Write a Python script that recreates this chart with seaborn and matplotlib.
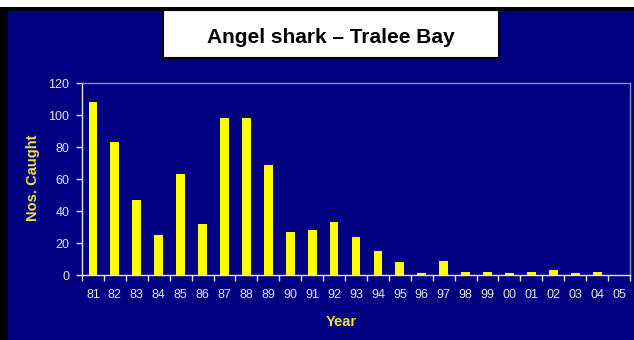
import matplotlib
matplotlib.use("Agg")
import matplotlib.pyplot as plt
from matplotlib.patches import Rectangle
import seaborn as sns
import pandas as pd
from matplotlib.ticker import MultipleLocator

years = ["81", "82", "83", "84", "85", "86", "87", "88", "89", "90", "91", "92", "93",
         "94", "95", "96", "97", "98", "99", "00", "01", "02", "03", "04", "05"]
caught = [108, 83, 47, 25, 63, 32, 98, 98, 69, 27, 28, 33, 24,
          15, 8, 1, 9, 2, 2, 1, 2, 3, 1, 2, 0]
yticks = [0, 20, 40, 60, 80, 100, 120]

title = "Angel shark \u2013 Tralee Bay"
ylabel = "Nos. Caught"
xlabel = "Year"

W, H = 634, 340
NAVY = "#000080"
YELLOW = "#FFFF00"
TICKC = "#E6E6E6"

sns.set_theme(style="white")
plt.rcParams["font.family"] = ["Liberation Sans", "DejaVu Sans"]

fig = plt.figure(figsize=(W / 100, H / 100), dpi=100, facecolor="white")

def px_rect(x0, y0, x1, y1, **kw):
    r = Rectangle((x0 / W, 1 - y1 / H), (x1 - x0) / W, (y1 - y0) / H,
                  transform=fig.transFigure, **kw)
    fig.patches.append(r)
    return r

px_rect(0, 7, W, H, facecolor="black", edgecolor="none", zorder=-2)
px_rect(8, 11, W, H, facecolor=NAVY, edgecolor="none", zorder=-1)

left, right, top, bottom = 82, 630, 83, 275
ax = fig.add_axes([left / W, 1 - bottom / H, (right - left) / W, (bottom - top) / H])
ax.set_zorder(2)
ax.set_facecolor(NAVY)

df = pd.DataFrame({"Year": years, "Caught": caught})
sns.barplot(data=df, x="Year", y="Caught", color=YELLOW, width=0.4,
            saturation=1, edgecolor="none", ax=ax)

ax.set_xlim(-0.5, len(years) - 0.5)
ax.set_ylim(0, 120)
ax.set_yticks(yticks)
ax.set_xlabel("")
ax.set_ylabel("")

for s in ["top", "right"]:
    ax.spines[s].set_color("#8C8CB4")
    ax.spines[s].set_linewidth(1.0)
for s in ["left", "bottom"]:
    ax.spines[s].set_color(TICKC)
    ax.spines[s].set_linewidth(1.0)

ax.xaxis.set_minor_locator(MultipleLocator(1, offset=0.5))
ax.tick_params(axis="x", which="major", length=0, pad=10, labelsize=9, labelcolor=TICKC)
ax.tick_params(axis="x", which="minor", bottom=True, length=4, width=1, color=TICKC, direction="out")
ax.tick_params(axis="y", which="major", left=True, length=4, width=1, color=TICKC,
               direction="out", pad=5, labelsize=9, labelcolor=TICKC)

fig.text(33 / W, 1 - 178 / H, ylabel, rotation=90, ha="center", va="center",
         color="#F0E040", fontsize=10.5, fontweight="bold")
fig.text(341 / W, 1 - 322 / H, xlabel, ha="center", va="center",
         color="#F0E040", fontsize=10.5, fontweight="bold")

px_rect(163, 10, 499, 58, facecolor="white", edgecolor="black", linewidth=1.5, zorder=3)
fig.text(331 / W, 1 - 43 / H, title, ha="center", va="baseline", color="black",
         fontsize=15, fontweight="bold", zorder=4)

fig.savefig("out.png", dpi=100, facecolor=fig.get_facecolor())
